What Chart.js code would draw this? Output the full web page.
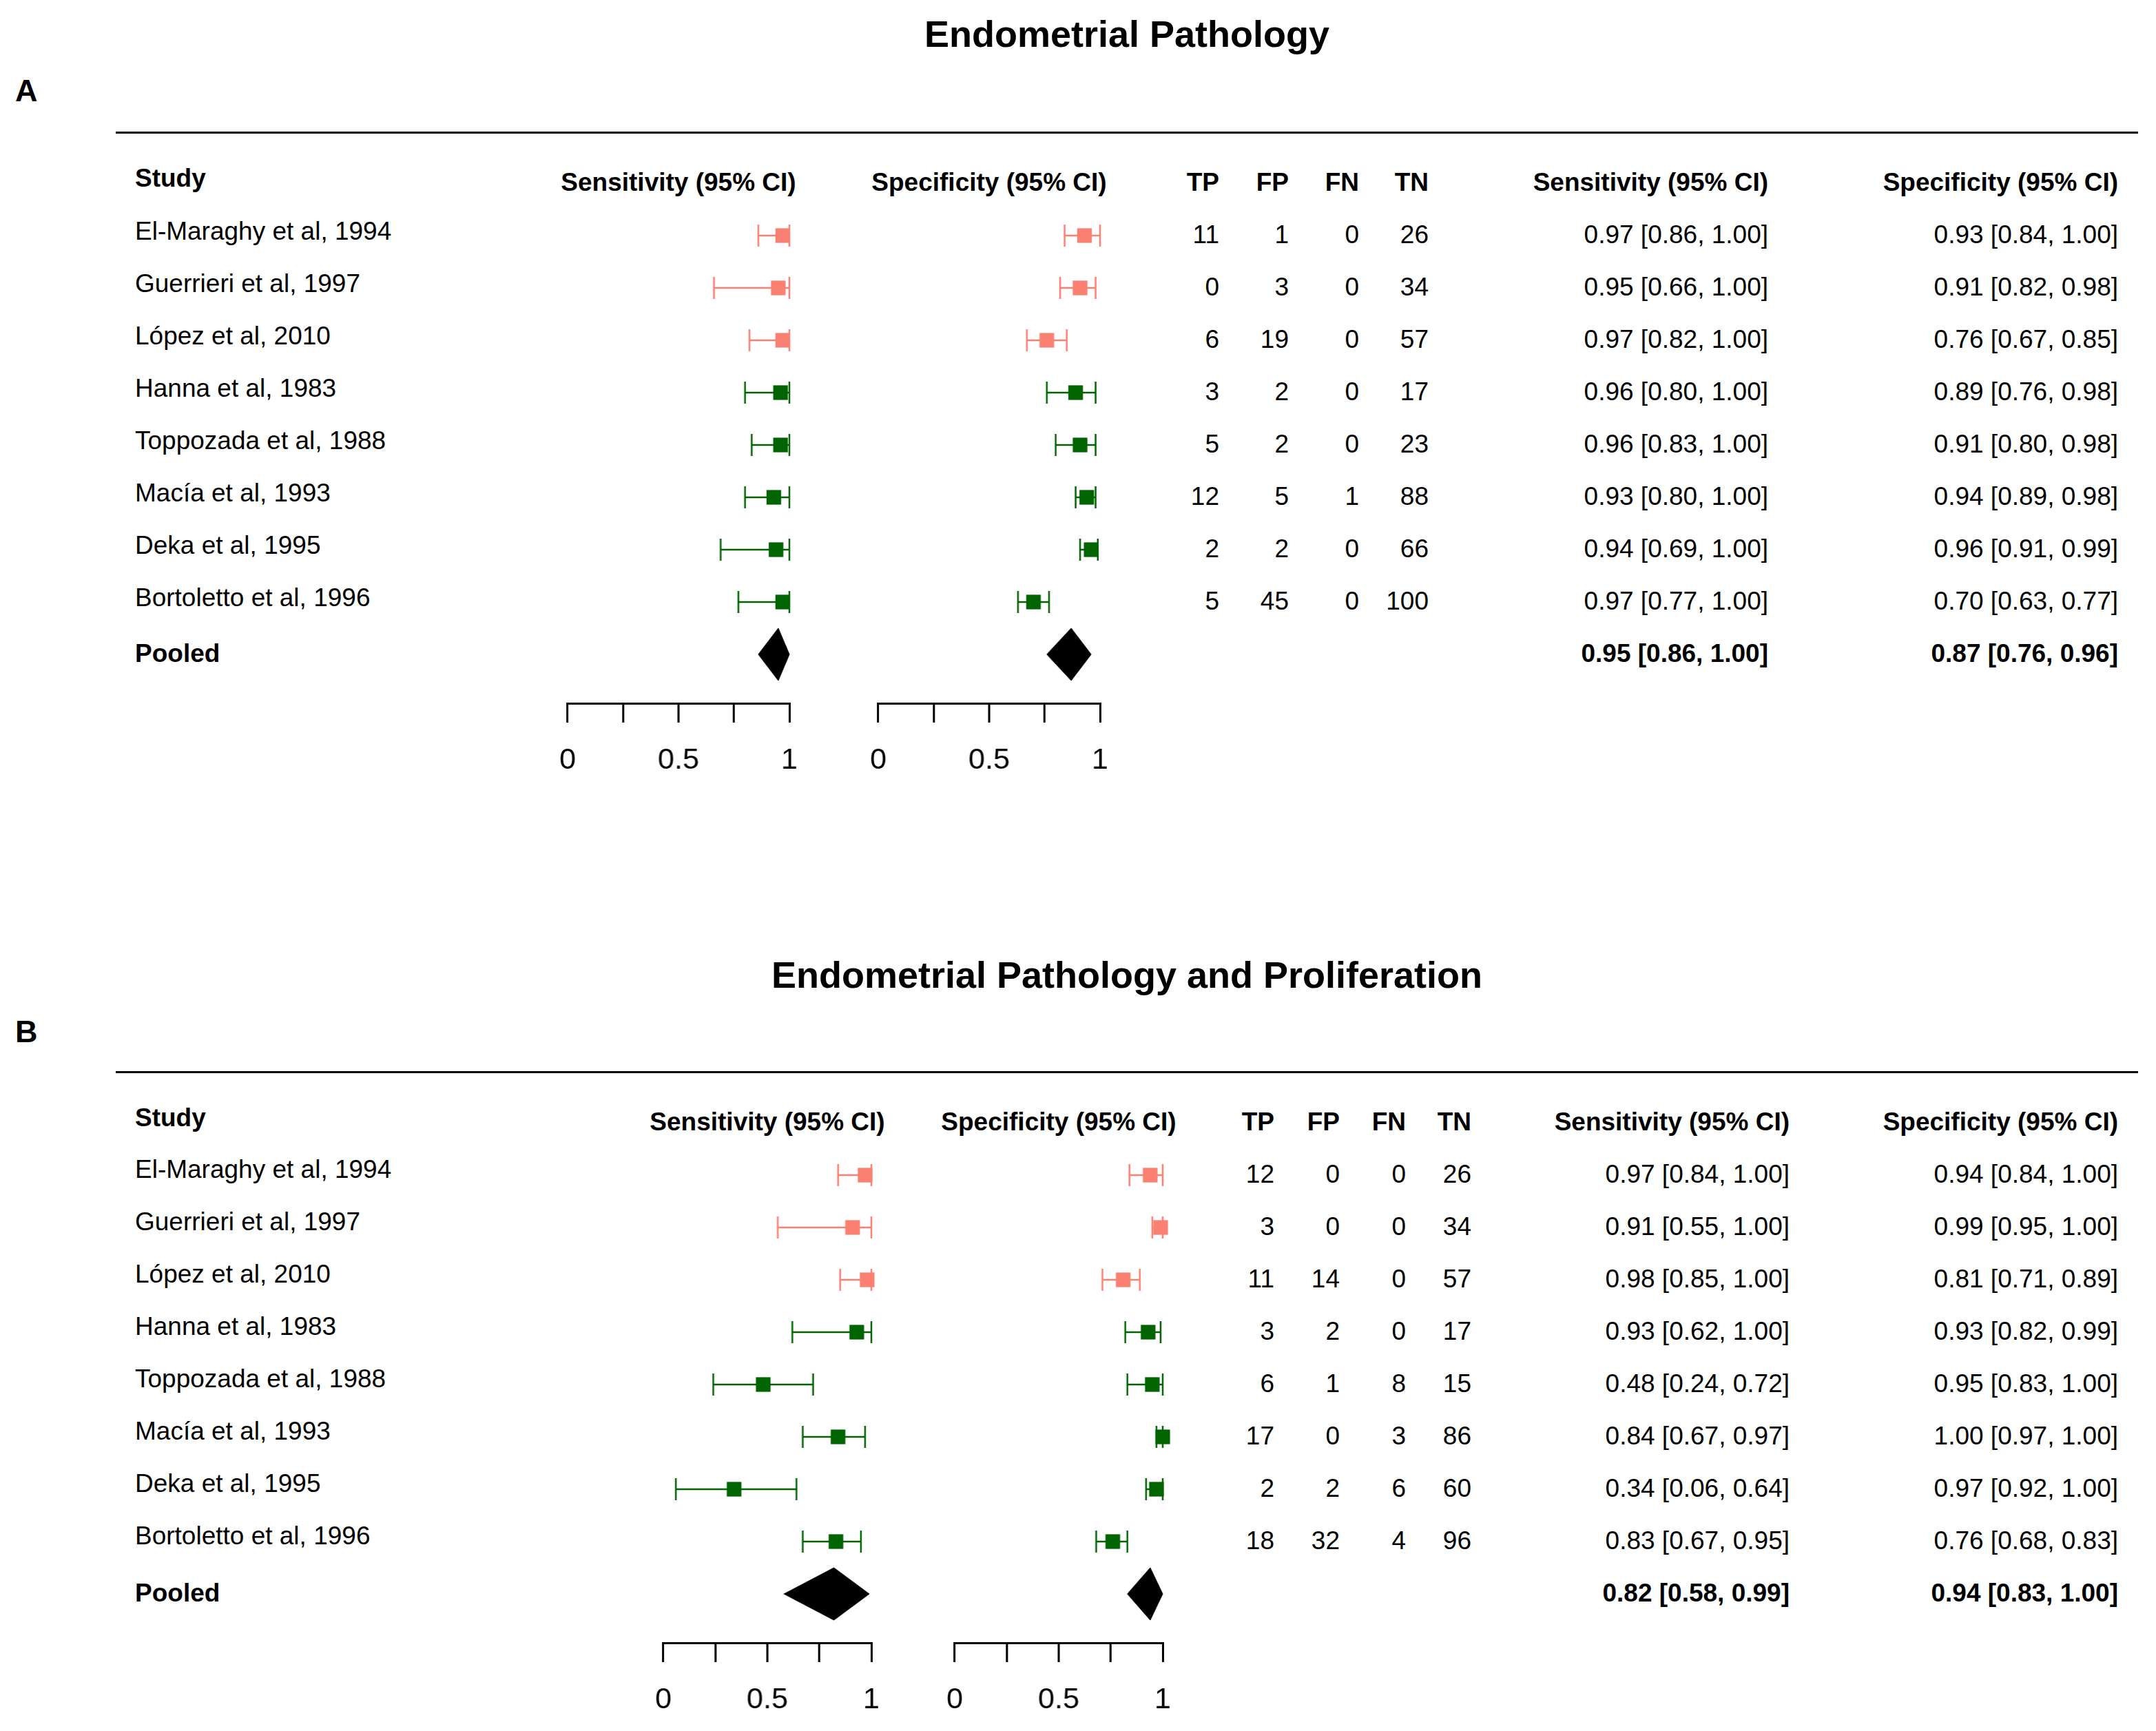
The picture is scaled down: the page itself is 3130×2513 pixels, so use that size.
<!DOCTYPE html>
<html>
<head>
<meta charset="utf-8">
<title>Endometrial Pathology - forest plots</title>
<script src="https://cdn.jsdelivr.net/npm/chart.js@4.4.1/dist/chart.umd.min.js"></script>
<style>
  body { margin: 0; background: #fff; }
  #page { position: relative; width: 3130px; height: 2513px; background: #fff; overflow: hidden;
          font-family: "Liberation Sans", Arial, Helvetica, sans-serif; color: #000; }
  .t { position: absolute; white-space: nowrap; line-height: 1; }
  .rule { position: absolute; height: 3px; background: #000; }
  canvas { position: absolute; }
</style>
</head>
<body>
<div id="page"></div>
<script>
// studies, same order in both panels
const studies = ["El-Maraghy et al, 1994", "Guerrieri et al, 1997", "López et al, 2010", "Hanna et al, 1983",
                 "Toppozada et al, 1988", "Macía et al, 1993", "Deka et al, 1995", "Bortoletto et al, 1996"];
const studyGroup = [0, 0, 0, 1, 1, 1, 1, 1];
const groupColors = ["#FA8072", "#006400"];

// panel A: Endometrial Pathology
const tpA = [11, 0, 6, 3, 5, 12, 2, 5];
const fpA = [1, 3, 19, 2, 2, 5, 2, 45];
const fnA = [0, 0, 0, 0, 0, 1, 0, 0];
const tnA = [26, 34, 57, 17, 23, 88, 66, 100];
const sensA = [0.97, 0.95, 0.97, 0.96, 0.96, 0.93, 0.94, 0.97];
const sensLoA = [0.86, 0.66, 0.82, 0.80, 0.83, 0.80, 0.69, 0.77];
const sensHiA = [1.00, 1.00, 1.00, 1.00, 1.00, 1.00, 1.00, 1.00];
const specA = [0.93, 0.91, 0.76, 0.89, 0.91, 0.94, 0.96, 0.70];
const specLoA = [0.84, 0.82, 0.67, 0.76, 0.80, 0.89, 0.91, 0.63];
const specHiA = [1.00, 0.98, 0.85, 0.98, 0.98, 0.98, 0.99, 0.77];
const pooledSensA = [0.95, 0.86, 1.00]; // estimate, lower, upper
const pooledSpecA = [0.87, 0.76, 0.96];

// panel B: Endometrial Pathology and Proliferation
const tpB = [12, 3, 11, 3, 6, 17, 2, 18];
const fpB = [0, 0, 14, 2, 1, 0, 2, 32];
const fnB = [0, 0, 0, 0, 8, 3, 6, 4];
const tnB = [26, 34, 57, 17, 15, 86, 60, 96];
const sensB = [0.97, 0.91, 0.98, 0.93, 0.48, 0.84, 0.34, 0.83];
const sensLoB = [0.84, 0.55, 0.85, 0.62, 0.24, 0.67, 0.06, 0.67];
const sensHiB = [1.00, 1.00, 1.00, 1.00, 0.72, 0.97, 0.64, 0.95];
const specB = [0.94, 0.99, 0.81, 0.93, 0.95, 1.00, 0.97, 0.76];
const specLoB = [0.84, 0.95, 0.71, 0.82, 0.83, 0.97, 0.92, 0.68];
const specHiB = [1.00, 1.00, 0.89, 0.99, 1.00, 1.00, 1.00, 0.83];
const pooledSensB = [0.82, 0.58, 0.99];
const pooledSpecB = [0.94, 0.83, 1.00];

// axis ticks
const tickValues = [0, 0.25, 0.5, 0.75, 1];
const tickLabels = ["0", "", "0.5", "", "1"];

const page = document.getElementById("page");
const FONT = '"Liberation Sans", Arial, Helvetica, sans-serif';
const ROW = 76;

function text(str, x, y, opts) {
    opts = opts || {};
    const size = opts.size || 37;
    const d = document.createElement("div");
    d.className = "t";
    d.textContent = str;
    d.style.fontSize = size + "px";
    d.style.fontWeight = opts.bold ? "bold" : "normal";
    d.style.left = x + "px";
    d.style.top = (y - size * 0.49) + "px";
    const tx = opts.align === "right" ? "-100%" : opts.align === "center" ? "-50%" : "0";
    d.style.transform = "translateX(" + tx + ")";
    page.appendChild(d);
}

function rule(y) {
    const d = document.createElement("div");
    d.className = "rule";
    d.style.left = "168px";
    d.style.width = (3104 - 168) + "px";
    d.style.top = (y - 1.5) + "px";
    page.appendChild(d);
}

const fmt = (e, l, h) => `${e.toFixed(2)} [${l.toFixed(2)}, ${h.toFixed(2)}]`;

function forestConfig(est, lo, hi, pooled, yMax) {
    const colors = est.map((e, i) => groupColors[studyGroup[i]]);
    const datasets = [];
    // squares first so they sit on top
    datasets.push({
        data: est.map((e, i) => ({ x: e, y: i + 1 })),
        pointStyle: "rect",
        pointRadius: 15,
        pointBackgroundColor: colors,
        pointBorderWidth: 0,
        showLine: false,
        clip: false
    });
    est.forEach((e, i) => {
        datasets.push({
            data: [{ x: lo[i], y: i + 1 }, { x: hi[i], y: i + 1 }],
            showLine: true,
            borderColor: colors[i],
            borderWidth: 2.5,
            pointStyle: "line",
            pointRotation: 90,
            pointRadius: 16,
            pointBorderColor: colors[i],
            pointBorderWidth: 2.5,
            clip: false
        });
    });
    const pr = est.length + 1;
    datasets.push({
        data: [{ x: pooled[1], y: pr }, { x: pooled[0], y: pr - 0.5 }, { x: pooled[2], y: pr },
               { x: pooled[0], y: pr + 0.5 }, { x: pooled[1], y: pr }],
        showLine: true,
        borderColor: "#000",
        backgroundColor: "#000",
        borderWidth: 1,
        fill: "shape",
        pointRadius: 0,
        tension: 0,
        clip: false
    });
    return {
        type: "scatter",
        data: { datasets: datasets },
        options: {
            responsive: false,
            maintainAspectRatio: false,
            animation: false,
            devicePixelRatio: 1,
            layout: { autoPadding: false, padding: { left: 40, right: 40, top: 0, bottom: 0 } },
            plugins: { legend: { display: false }, tooltip: { enabled: false } },
            events: [],
            scales: {
                x: {
                    type: "linear",
                    min: 0,
                    max: 1,
                    afterBuildTicks: s => { s.ticks = tickValues.map(v => ({ value: v })); },
                    ticks: {
                        autoSkip: false,
                        maxRotation: 0,
                        color: "#000",
                        padding: 34,
                        font: { family: FONT, size: 43, lineHeight: 1 },
                        callback: (v, i) => tickLabels[i]
                    },
                    grid: { drawOnChartArea: false, drawTicks: true, tickLength: 28, color: "#000", lineWidth: 3 },
                    border: { display: true, color: "#000", width: 3 }
                },
                y: { type: "linear", reverse: true, min: 0.5, max: yMax, display: false }
            }
        }
    };
}

// one forest plot: x0..x1 is where 0..1 sits, rowTop is the y of row 1, axisY the axis line
function forest(x0, x1, rowTop, axisY, est, lo, hi, pooled) {
    const areaW = x1 - x0;
    const areaH = axisY - (rowTop - ROW / 2);
    const yMax = 0.5 + areaH / ROW;
    let w = areaW + 80, h = areaH + 150;
    const canvas = document.createElement("canvas");
    page.appendChild(canvas);
    const build = () => {
        canvas.width = w;
        canvas.height = h;
        canvas.style.width = w + "px";
        canvas.style.height = h + "px";
        return new Chart(canvas, forestConfig(est, lo, hi, pooled, yMax));
    };
    let chart = build();
    let a = chart.chartArea;
    const dw = areaW - (a.right - a.left);
    const dh = areaH - (a.bottom - a.top);
    if (dw || dh) {
        chart.destroy();
        w += dw;
        h += dh;
        chart = build();
        a = chart.chartArea;
    }
    canvas.style.left = (x0 - a.left) + "px";
    canvas.style.top = (rowTop - ROW / 2 - a.top) + "px";
    return chart;
}

function panel(L, d) {
    text(L.title, 1636, L.titleY, { size: 54, bold: true, align: "center" });
    text(L.letter, 22, L.letterY, { size: 45, bold: true });
    rule(L.ruleY);

    text("Study", 196, L.studyY, { bold: true });
    text("Sensitivity (95% CI)", (L.sensX0 + L.sensX1) / 2, L.headY, { bold: true, align: "center" });
    text("Specificity (95% CI)", (L.specX0 + L.specX1) / 2, L.headY, { bold: true, align: "center" });
    ["TP", "FP", "FN", "TN"].forEach((h, j) => text(h, L.cols[j], L.headY, { bold: true, align: "right" }));
    text("Sensitivity (95% CI)", L.sensRight, L.headY, { bold: true, align: "right" });
    text("Specificity (95% CI)", L.specRight, L.headY, { bold: true, align: "right" });

    studies.forEach((s, i) => {
        text(s, 196, L.nameY + i * ROW);
        const y = L.numY + i * ROW;
        [d.tp, d.fp, d.fn, d.tn].forEach((col, j) => text(String(col[i]), L.cols[j], y, { align: "right" }));
        text(fmt(d.sens[i], d.sensLo[i], d.sensHi[i]), L.sensRight, y, { align: "right" });
        text(fmt(d.spec[i], d.specLo[i], d.specHi[i]), L.specRight, y, { align: "right" });
    });
    const py = L.numY + studies.length * ROW;
    text("Pooled", 196, py, { bold: true });
    text(fmt(d.pSens[0], d.pSens[1], d.pSens[2]), L.sensRight, py, { bold: true, align: "right" });
    text(fmt(d.pSpec[0], d.pSpec[1], d.pSpec[2]), L.specRight, py, { bold: true, align: "right" });

    forest(L.sensX0, L.sensX1, L.rowTop, L.axisY, d.sens, d.sensLo, d.sensHi, d.pSens);
    forest(L.specX0, L.specX1, L.rowTop, L.axisY, d.spec, d.specLo, d.specHi, d.pSpec);
}

panel({
    title: "Endometrial Pathology", letter: "A",
    titleY: 48, letterY: 131, ruleY: 192, studyY: 258, headY: 264,
    nameY: 335, numY: 340, rowTop: 342, axisY: 1021,
    sensX0: 824, sensX1: 1146, specX0: 1275, specX1: 1597,
    cols: [1770, 1871, 1973, 2074], sensRight: 2567, specRight: 3075
}, {
    tp: tpA, fp: fpA, fn: fnA, tn: tnA,
    sens: sensA, sensLo: sensLoA, sensHi: sensHiA,
    spec: specA, specLo: specLoA, specHi: specHiA,
    pSens: pooledSensA, pSpec: pooledSpecA
});

panel({
    title: "Endometrial Pathology and Proliferation", letter: "B",
    titleY: 1414, letterY: 1497, ruleY: 1556, studyY: 1622, headY: 1628,
    nameY: 1697, numY: 1704, rowTop: 1706, axisY: 2385,
    sensX0: 963, sensX1: 1265, specX0: 1386, specX1: 1688,
    cols: [1850, 1945, 2041, 2136], sensRight: 2598, specRight: 3075
}, {
    tp: tpB, fp: fpB, fn: fnB, tn: tnB,
    sens: sensB, sensLo: sensLoB, sensHi: sensHiB,
    spec: specB, specLo: specLoB, specHi: specHiB,
    pSens: pooledSensB, pSpec: pooledSpecB
});
</script>
</body>
</html>
